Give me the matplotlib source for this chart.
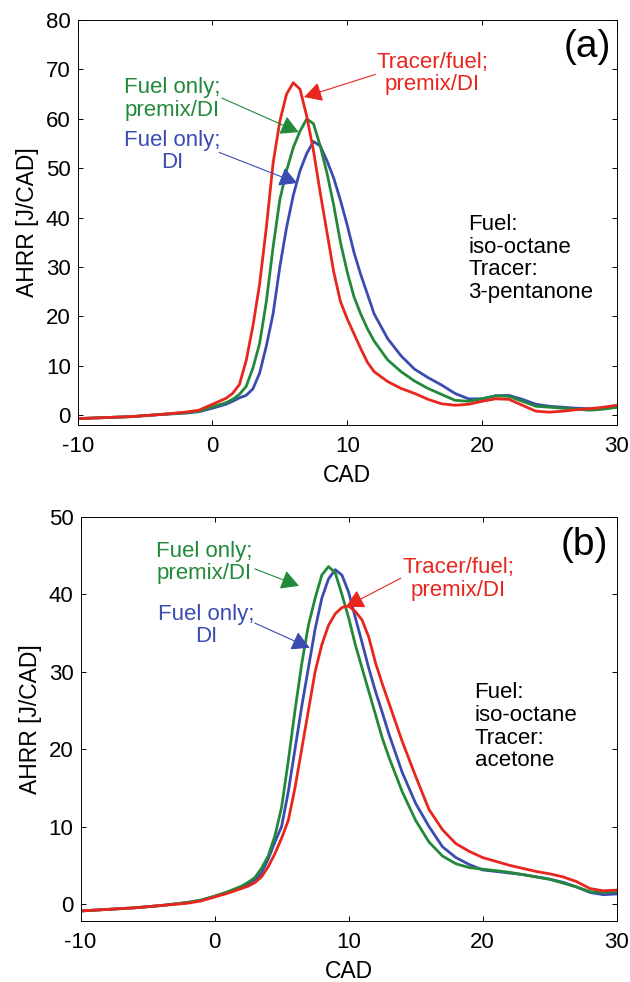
import numpy as np
import matplotlib
matplotlib.use('Agg')
import matplotlib.pyplot as plt

plt.rcParams['font.family'] = ['Liberation Sans', 'DejaVu Sans']
plt.rcParams['axes.unicode_minus'] = False

# CAD grids and AHRR values
cad_a = [-10, -8, -6, -4, -2, -1, 0, 1, 1.5, 2, 2.5, 3, 3.5, 4, 4.5, 5, 5.5, 6, 6.5, 7,
         7.5, 8, 8.5, 9, 9.5, 10, 10.5, 11, 11.5, 12, 13, 14, 15, 16, 17, 18, 19, 20,
         21, 22, 23, 24, 25, 26, 27, 28, 29, 30]
red_a = [-0.7, -0.5, -0.3, 0.1, 0.6, 1.0, 2.2, 3.4, 4.4, 6.2, 11, 18, 26.5, 38, 51, 59.5,
         65, 67.3, 66, 60.5, 53.5, 45, 37, 29, 23, 19.5, 16.5, 13.5, 10.7, 8.8, 6.8, 5.4,
         4.4, 3.2, 2.3, 2.0, 2.2, 2.8, 3.3, 3.2, 2.0, 0.8, 0.6, 0.8, 1.1, 1.3, 1.6, 2.0]
green_a = [-0.7, -0.5, -0.3, 0.1, 0.5, 0.8, 1.7, 2.5, 3.2, 4.2, 5.8, 9.5, 14.5, 23, 34,
           43.6, 49.5, 54.2, 57.5, 60, 59, 54.5, 49, 42.5, 35, 29, 24, 20.5, 17.5, 15,
           11.2, 8.8, 6.9, 5.4, 4.2, 3.0, 2.8, 3.3, 3.9, 3.8, 2.8, 1.8, 1.6, 1.4, 1.2,
           1.0, 1.2, 1.6]
blue_a = [-0.7, -0.5, -0.3, 0.1, 0.4, 0.7, 1.4, 2.2, 2.8, 3.5, 4.0, 5.3, 8.5, 14, 20.5,
          30, 38, 44.5, 49.5, 53, 55.4, 54.5, 51.5, 48, 43.5, 38.5, 33, 28.5, 24.5, 20.5,
          15.5, 12, 9.3, 7.6, 6.1, 4.4, 3.3, 3.3, 3.9, 4.0, 3.2, 2.2, 1.8, 1.6, 1.4, 1.3,
          1.4, 1.6]

cad_b = [-10, -8, -6, -4, -2, -1, 0, 1, 2, 2.5, 3, 3.5, 4, 4.5, 5, 5.5, 6, 6.5, 7, 7.5,
         8, 8.5, 9, 9.5, 10, 10.5, 11, 11.5, 12, 12.5, 13, 14, 15, 16, 17, 18, 19, 20,
         21, 22, 23, 24, 25, 26, 27, 28, 29, 30]
green_b = [-0.9, -0.7, -0.5, -0.2, 0.2, 0.5, 1.0, 1.6, 2.3, 2.8, 3.4, 4.6, 6.2, 8.8, 12.5,
           18.5, 25, 31, 36, 39.5, 42.5, 43.6, 42.8, 40, 37, 33.5, 30.5, 27.5, 24.5, 21.5,
           19, 14.5, 10.8, 8.0, 6.2, 5.2, 4.7, 4.5, 4.3, 4.1, 3.8, 3.5, 3.2, 2.7, 2.2,
           1.6, 1.5, 1.6]
blue_b = [-0.9, -0.7, -0.5, -0.2, 0.2, 0.5, 1.0, 1.5, 2.2, 2.6, 3.1, 4.0, 5.8, 8.0, 10,
          14.5, 20, 25.5, 30.5, 35.5, 39.5, 42, 43.2, 42.5, 40.3, 37, 33.8, 30.5, 27.5,
          24.8, 22, 17, 13, 10, 7.4, 6.0, 5.1, 4.4, 4.2, 4.0, 3.8, 3.5, 3.2, 2.8, 2.2,
          1.5, 1.2, 1.3]
red_b = [-0.9, -0.7, -0.5, -0.2, 0.1, 0.4, 0.9, 1.4, 2.0, 2.3, 2.75, 3.5, 4.8, 6.5, 8.5,
         10.8, 15, 20, 25, 30, 33.5, 36, 37.5, 38.3, 38.5, 37.8, 36.7, 34.5, 31.2, 28.5,
         26, 21, 16.5, 12.2, 9.6, 7.8, 6.8, 6.0, 5.5, 5.0, 4.6, 4.2, 3.9, 3.5, 2.9, 2.0,
         1.7, 1.8]

RED = '#e8261e'
GREEN = '#23893a'
BLUE = '#3b4cb0'
FS = 16

fig = plt.figure(figsize=(6.3, 9.82), dpi=100)
ax1 = fig.add_axes([0.1233, 0.5672, 0.8556, 0.4124])
ax2 = fig.add_axes([0.1278, 0.0621, 0.8511, 0.4114])


def style(ax, ylim, yticks):
    ax.set_xlim(-10, 30)
    ax.set_ylim(*ylim)
    ax.set_xticks([-10, 0, 10, 20, 30])
    ax.set_yticks(yticks)
    ax.tick_params(direction='in', top=True, right=True, labelsize=FS, length=3.5,
                   width=0.7)
    ax.tick_params(axis='x', pad=8)
    ax.tick_params(axis='y', pad=5)
    ax.set_xlabel('CAD', fontsize=16.5, labelpad=5)
    ax.set_ylabel('AHRR [J/CAD]', fontsize=16.5, labelpad=5)
    for s in ax.spines.values():
        s.set_linewidth(0.7)


def arrow(ax, tail, tip, color):
    ax.annotate('', xy=tip, xytext=tail,
                arrowprops=dict(arrowstyle='-|>,head_length=0.55,head_width=0.3',
                                color=color, lw=0.8, mutation_scale=20,
                                shrinkA=0, shrinkB=0))


def label(ax, x, y, s, color):
    ax.text(x, y, s, color=color, fontsize=FS, ha='center', va='center',
            linespacing=1.1)


# Panel (a)
ax1.plot(cad_a, blue_a, color=BLUE, lw=2.0)
ax1.plot(cad_a, green_a, color=GREEN, lw=2.0)
ax1.plot(cad_a, red_a, color=RED, lw=2.0)
style(ax1, (-2, 80), range(0, 81, 10))
label(ax1, -3.0, 64, 'Fuel only;\npremix/DI', GREEN)
label(ax1, -3.0, 53.4, 'Fuel only;\nDI', BLUE)
label(ax1, 16.3, 69.2, 'Tracer/fuel;\npremix/DI', RED)
arrow(ax1, (0.7, 64.2), (6.4, 57.3), GREEN)
arrow(ax1, (0.5, 53.2), (6.3, 47), BLUE)
arrow(ax1, (12.1, 69), (6.8, 64.4), RED)
ax1.text(27.8, 74.5, '(a)', fontsize=28, ha='center', va='center')
ax1.text(19.0, 31.7, 'Fuel:\niso-octane\nTracer:\n3-pentanone', fontsize=FS,
         ha='left', va='center', linespacing=1.1)

# Panel (b)
ax2.plot(cad_b, blue_b, color=BLUE, lw=2.0)
ax2.plot(cad_b, green_b, color=GREEN, lw=2.0)
ax2.plot(cad_b, red_b, color=RED, lw=2.0)
style(ax2, (-2.2, 50), range(0, 51, 10))
label(ax2, -0.75, 44.1, 'Fuel only;\npremix/DI', GREEN)
label(ax2, -0.65, 36.0, 'Fuel only;\nDI', BLUE)
label(ax2, 18.2, 42.0, 'Tracer/fuel;\npremix/DI', RED)
arrow(ax2, (3.0, 43.3), (6.3, 41.1), GREEN)
arrow(ax2, (3.0, 36.3), (7.1, 33.1), BLUE)
arrow(ax2, (13.9, 42.1), (9.8, 38.4), RED)
ax2.text(27.6, 46.4, '(b)', fontsize=28, ha='center', va='center')
ax2.text(19.4, 22.9, 'Fuel:\niso-octane\nTracer:\nacetone', fontsize=FS,
         ha='left', va='center', linespacing=1.1)

fig.savefig('out.png', dpi=100)
